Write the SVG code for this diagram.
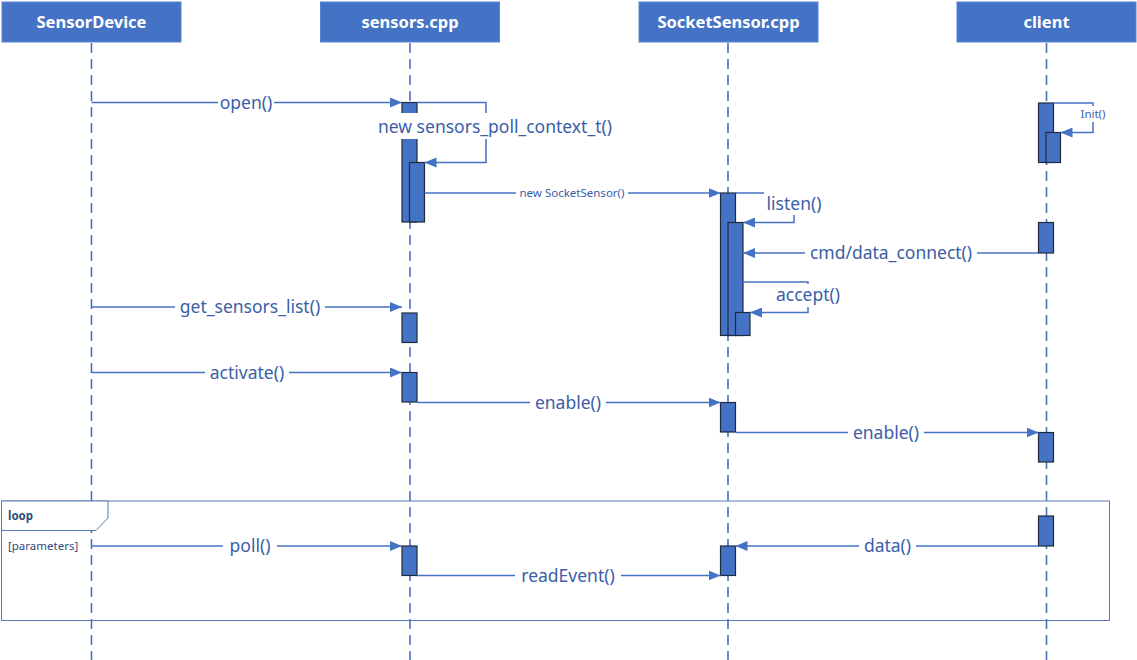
<svg xmlns="http://www.w3.org/2000/svg" width="1137" height="660" viewBox="0 0 1137 660">
  <style>
    .hdr { fill: #4472C4; stroke: #5B84CF; stroke-width: 1; }
    .hdr-text { font-family: "Noto Sans", "Open Sans", sans-serif; font-weight: bold; font-size: 16.5px; fill: #ffffff; text-anchor: middle; }
    .life { stroke: #4A72B8; stroke-width: 1.6; stroke-dasharray: 10 6; fill: none; }
    .act { fill: #4472C4; stroke: #1F2A3C; stroke-width: 1.2; }
    .msg { stroke: #4472C4; stroke-width: 1.5; fill: none; }
    .lbl { font-family: "Noto Sans", "Open Sans", sans-serif; font-size: 17.5px; fill: #3A5EA8; text-anchor: middle; }
    .lbl-s { font-family: "Noto Sans", "Open Sans", sans-serif; font-size: 11.5px; fill: #3A5EA8; text-anchor: middle; }
    .bg { fill: #ffffff; }
    .frame { stroke: #5B7BB8; stroke-width: 1; fill: none; }
    .frame-tag { stroke: #5B7BB8; stroke-width: 1; fill: #ffffff; }
    .frame-text { font-family: "Noto Sans", "Open Sans", sans-serif; font-size: 11.5px; fill: #2F4B80; }
  </style>
  <defs>
    <marker id="arrow" viewBox="0 0 12 10" refX="12" refY="5" markerWidth="12" markerHeight="10" markerUnits="userSpaceOnUse" orient="auto">
      <path d="M0,0 L12,5 L0,10 Z" fill="#4472C4"/>
    </marker>
  </defs>

  <rect width="1137" height="660" fill="#ffffff"/>

  <!-- lifelines -->
  <g id="lifelines">
    <line class="life" x1="91.5" y1="43" x2="91.5" y2="660"/>
    <line class="life" x1="410" y1="43" x2="410" y2="660"/>
    <line class="life" x1="728" y1="43" x2="728" y2="660"/>
    <line class="life" x1="1046.5" y1="43" x2="1046.5" y2="660"/>
  </g>

  <!-- loop combined fragment -->
  <g id="loop-frame">
    <rect class="frame" x="1.5" y="501" width="1108" height="119.5"/>
    <path class="frame-tag" d="M1.5,501 V530.5 H96 L108,518 V501 Z"/>
    <text class="frame-text" x="8" y="520" font-weight="bold">loop</text>
    <text class="frame-text" x="8" y="550">[parameters]</text>
  </g>

  <!-- participants -->
  <g id="SensorDevice">
    <rect class="hdr" x="2" y="2" width="179" height="40"/>
    <text class="hdr-text" x="91.5" y="28">SensorDevice</text>
  </g>
  <g id="sensors_cpp">
    <rect class="hdr" x="320.5" y="2" width="179" height="40"/>
    <text class="hdr-text" x="410" y="28">sensors.cpp</text>
  </g>
  <g id="SocketSensor_cpp">
    <rect class="hdr" x="639" y="2" width="179" height="40"/>
    <text class="hdr-text" x="728.5" y="28">SocketSensor.cpp</text>
  </g>
  <g id="client">
    <rect class="hdr" x="957" y="2" width="179" height="40"/>
    <text class="hdr-text" x="1046.5" y="28">client</text>
  </g>

  <!-- activation bars -->
  <g id="activations">
    <rect class="act" x="402" y="102.5" width="15" height="119.5"/>
    <rect class="act" x="409.5" y="162.5" width="15" height="59.5"/>
    <rect class="act" x="720.5" y="193" width="15" height="142.5"/>
    <rect class="act" x="728" y="222.5" width="15" height="113"/>
    <rect class="act" x="735.5" y="312.5" width="14.5" height="23"/>
    <rect class="act" x="1038.5" y="103" width="15" height="59.5"/>
    <rect class="act" x="1046" y="132.5" width="14.5" height="30"/>
    <rect class="act" x="1038.5" y="222.5" width="15" height="30.5"/>
    <rect class="act" x="402" y="313" width="15" height="29.5"/>
    <rect class="act" x="402" y="372.5" width="15" height="29.5"/>
    <rect class="act" x="720.5" y="402.5" width="15" height="29.5"/>
    <rect class="act" x="1038.5" y="432.5" width="15" height="29.5"/>
    <rect class="act" x="1038.5" y="516" width="15" height="30"/>
    <rect class="act" x="402" y="546" width="15" height="29.5"/>
    <rect class="act" x="720.5" y="546" width="15" height="29.5"/>
  </g>

  <!-- messages -->
  <g id="connectors">
    <line class="msg" x1="91.5" y1="102.5" x2="402" y2="102.5" marker-end="url(#arrow)"/>
    <path class="msg" d="M417,102.5 H486 V162.5 H424.5" marker-end="url(#arrow)"/>
    <line class="msg" x1="424.5" y1="193" x2="720.5" y2="193" marker-end="url(#arrow)"/>
    <path class="msg" d="M735.5,193 H794 V222.5 H743" marker-end="url(#arrow)"/>
    <line class="msg" x1="1038.5" y1="253" x2="743" y2="253" marker-end="url(#arrow)"/>
    <path class="msg" d="M743,282 H808 V312.5 H750" marker-end="url(#arrow)"/>
    <path class="msg" d="M1053.5,103 H1093 V132.5 H1060.5" marker-end="url(#arrow)"/>
    <line class="msg" x1="91.5" y1="307" x2="402" y2="307" marker-end="url(#arrow)"/>
    <line class="msg" x1="91.5" y1="372.5" x2="402" y2="372.5" marker-end="url(#arrow)"/>
    <line class="msg" x1="417" y1="402.5" x2="720.5" y2="402.5" marker-end="url(#arrow)"/>
    <line class="msg" x1="735.5" y1="432.5" x2="1038.5" y2="432.5" marker-end="url(#arrow)"/>
    <line class="msg" x1="1038.5" y1="546" x2="735.5" y2="546" marker-end="url(#arrow)"/>
    <line class="msg" x1="91.5" y1="546" x2="402" y2="546" marker-end="url(#arrow)"/>
    <line class="msg" x1="417" y1="575.5" x2="720.5" y2="575.5" marker-end="url(#arrow)"/>
  </g>

  <!-- message labels -->
  <g id="labels">
    <rect class="bg" x="218" y="92" width="56" height="21"/>
    <text class="lbl" x="246" y="108.5">open()</text>

    <rect class="bg" x="370" y="113" width="250" height="26"/>
    <text class="lbl" x="495" y="133">new sensors_poll_context_t()</text>

    <rect class="bg" x="516" y="186" width="112" height="14"/>
    <text class="lbl-s" x="572" y="197">new SocketSensor()</text>

    <rect class="bg" x="764" y="192" width="60" height="23"/>
    <text class="lbl" x="794" y="210">listen()</text>

    <rect class="bg" x="805" y="242" width="172" height="22"/>
    <text class="lbl" x="891" y="259">cmd/data_connect()</text>

    <rect class="bg" x="773" y="284" width="70" height="23"/>
    <text class="lbl" x="808" y="301">accept()</text>

    <rect class="bg" x="1078" y="106" width="30" height="16"/>
    <text class="lbl-s" x="1093" y="118">Init()</text>

    <rect class="bg" x="175" y="296" width="150" height="22"/>
    <text class="lbl" x="250" y="313">get_sensors_list()</text>

    <rect class="bg" x="205" y="362" width="84" height="21"/>
    <text class="lbl" x="247" y="378.5">activate()</text>

    <rect class="bg" x="530" y="392" width="76" height="21"/>
    <text class="lbl" x="568" y="408.5">enable()</text>

    <rect class="bg" x="848" y="422" width="76" height="21"/>
    <text class="lbl" x="886" y="438.5">enable()</text>

    <rect class="bg" x="859" y="535" width="57" height="22"/>
    <text class="lbl" x="887.5" y="552">data()</text>

    <rect class="bg" x="223" y="535" width="54" height="22"/>
    <text class="lbl" x="250" y="552">poll()</text>

    <rect class="bg" x="515" y="565" width="106" height="21"/>
    <text class="lbl" x="568" y="581.5">readEvent()</text>
  </g>
</svg>
